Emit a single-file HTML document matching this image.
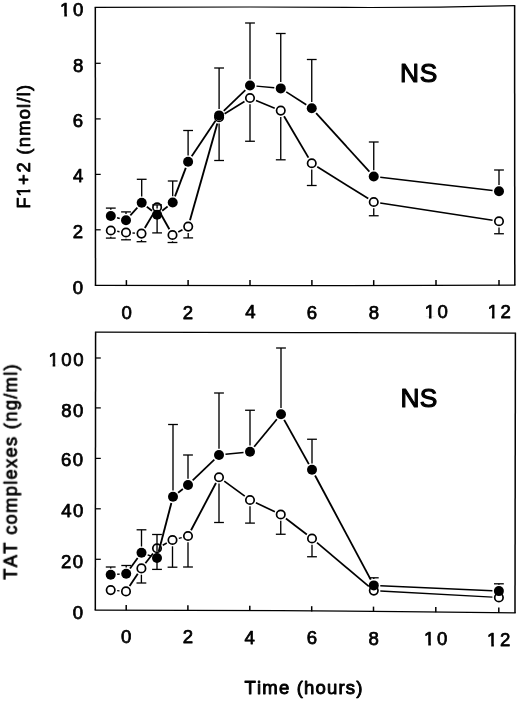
<!DOCTYPE html>
<html lang="en">
<head>
<meta charset="utf-8">
<title>F1+2 and TAT complexes over time</title>
<style>
html,body{margin:0;padding:0;background:#fff;}
body{width:520px;height:701px;overflow:hidden;}
svg{display:block;}
text{font-family:"Liberation Sans",sans-serif;fill:#000;stroke-linejoin:round;font-kerning:none;}
</style>
</head>
<body>
<svg width="520" height="701" viewBox="0 0 520 701">
<defs><filter id="soft" x="0" y="0" width="520" height="701" filterUnits="userSpaceOnUse" color-interpolation-filters="sRGB"><feGaussianBlur stdDeviation="0.33"/></filter></defs>
<rect x="0" y="0" width="520" height="701" fill="#fff"/>
<g filter="url(#soft)">
<polyline points="94.60,7.40 250.00,7.00 370.00,7.50 440.00,7.10 515.30,5.70" fill="none" stroke="#000" stroke-width="1.25" stroke-linejoin="miter"/>
<polyline points="94.80,285.40 300.00,285.60 515.50,285.20" fill="none" stroke="#000" stroke-width="1.25" stroke-linejoin="miter"/>
<line x1="95.30" y1="7.40" x2="95.50" y2="285.40" stroke="#000" stroke-width="1.5" stroke-linecap="butt"/>
<line x1="514.60" y1="5.70" x2="514.80" y2="285.20" stroke="#000" stroke-width="1.5" stroke-linecap="butt"/>
<line x1="95.40" y1="63.30" x2="100.70" y2="63.30" stroke="#000" stroke-width="1.25" stroke-linecap="butt"/>
<line x1="95.40" y1="118.90" x2="100.70" y2="118.90" stroke="#000" stroke-width="1.25" stroke-linecap="butt"/>
<line x1="95.40" y1="174.40" x2="100.70" y2="174.40" stroke="#000" stroke-width="1.25" stroke-linecap="butt"/>
<line x1="95.40" y1="229.80" x2="100.70" y2="229.80" stroke="#000" stroke-width="1.25" stroke-linecap="butt"/>
<line x1="126.40" y1="285.40" x2="126.40" y2="280.10" stroke="#000" stroke-width="1.5" stroke-linecap="butt"/>
<line x1="188.10" y1="285.40" x2="188.10" y2="280.10" stroke="#000" stroke-width="1.5" stroke-linecap="butt"/>
<line x1="250.00" y1="285.40" x2="250.00" y2="280.10" stroke="#000" stroke-width="1.5" stroke-linecap="butt"/>
<line x1="311.90" y1="285.40" x2="311.90" y2="280.10" stroke="#000" stroke-width="1.5" stroke-linecap="butt"/>
<line x1="373.70" y1="285.40" x2="373.70" y2="280.10" stroke="#000" stroke-width="1.5" stroke-linecap="butt"/>
<line x1="436.00" y1="285.40" x2="436.00" y2="280.10" stroke="#000" stroke-width="1.5" stroke-linecap="butt"/>
<line x1="499.00" y1="285.40" x2="499.00" y2="280.10" stroke="#000" stroke-width="1.5" stroke-linecap="butt"/>
<line x1="117.24" y1="231.35" x2="119.56" y2="231.65" stroke="#000" stroke-width="1.47" stroke-linecap="butt"/>
<line x1="132.48" y1="232.96" x2="135.02" y2="233.14" stroke="#000" stroke-width="1.44" stroke-linecap="butt"/>
<line x1="144.82" y1="228.01" x2="153.78" y2="212.89" stroke="#000" stroke-width="1.83" stroke-linecap="butt"/>
<line x1="160.26" y1="212.98" x2="169.34" y2="229.32" stroke="#000" stroke-width="1.84" stroke-linecap="butt"/>
<line x1="178.23" y1="231.93" x2="182.47" y2="229.67" stroke="#000" stroke-width="1.64" stroke-linecap="butt"/>
<line x1="189.97" y1="220.34" x2="217.33" y2="123.46" stroke="#000" stroke-width="1.88" stroke-linecap="butt"/>
<line x1="224.62" y1="113.77" x2="244.48" y2="101.43" stroke="#000" stroke-width="1.66" stroke-linecap="butt"/>
<line x1="256.01" y1="100.46" x2="274.74" y2="108.14" stroke="#000" stroke-width="1.59" stroke-linecap="butt"/>
<line x1="284.05" y1="116.20" x2="308.45" y2="157.65" stroke="#000" stroke-width="1.83" stroke-linecap="butt"/>
<line x1="317.26" y1="166.69" x2="368.24" y2="198.56" stroke="#000" stroke-width="1.66" stroke-linecap="butt"/>
<line x1="380.17" y1="202.99" x2="492.58" y2="220.26" stroke="#000" stroke-width="1.48" stroke-linecap="butt"/>
<line x1="110.80" y1="236.80" x2="110.80" y2="238.10" stroke="#000" stroke-width="1.35" stroke-linecap="butt"/>
<line x1="105.90" y1="238.10" x2="115.70" y2="238.10" stroke="#000" stroke-width="1.3" stroke-linecap="butt"/>
<line x1="126.00" y1="238.80" x2="126.00" y2="239.80" stroke="#000" stroke-width="1.35" stroke-linecap="butt"/>
<line x1="121.10" y1="239.80" x2="130.90" y2="239.80" stroke="#000" stroke-width="1.3" stroke-linecap="butt"/>
<line x1="141.50" y1="239.90" x2="141.50" y2="241.70" stroke="#000" stroke-width="1.35" stroke-linecap="butt"/>
<line x1="136.60" y1="241.70" x2="146.40" y2="241.70" stroke="#000" stroke-width="1.3" stroke-linecap="butt"/>
<line x1="157.10" y1="213.60" x2="157.10" y2="232.90" stroke="#000" stroke-width="1.35" stroke-linecap="butt"/>
<line x1="152.20" y1="232.90" x2="162.00" y2="232.90" stroke="#000" stroke-width="1.3" stroke-linecap="butt"/>
<line x1="172.50" y1="241.30" x2="172.50" y2="242.50" stroke="#000" stroke-width="1.35" stroke-linecap="butt"/>
<line x1="167.60" y1="242.50" x2="177.40" y2="242.50" stroke="#000" stroke-width="1.3" stroke-linecap="butt"/>
<line x1="188.20" y1="232.90" x2="188.20" y2="237.90" stroke="#000" stroke-width="1.35" stroke-linecap="butt"/>
<line x1="183.30" y1="237.90" x2="193.10" y2="237.90" stroke="#000" stroke-width="1.3" stroke-linecap="butt"/>
<line x1="219.10" y1="123.50" x2="219.10" y2="160.50" stroke="#000" stroke-width="1.35" stroke-linecap="butt"/>
<line x1="214.20" y1="160.50" x2="224.00" y2="160.50" stroke="#000" stroke-width="1.3" stroke-linecap="butt"/>
<line x1="250.00" y1="104.30" x2="250.00" y2="141.25" stroke="#000" stroke-width="1.35" stroke-linecap="butt"/>
<line x1="245.10" y1="141.25" x2="254.90" y2="141.25" stroke="#000" stroke-width="1.3" stroke-linecap="butt"/>
<line x1="280.75" y1="116.90" x2="280.75" y2="159.80" stroke="#000" stroke-width="1.35" stroke-linecap="butt"/>
<line x1="275.85" y1="159.80" x2="285.65" y2="159.80" stroke="#000" stroke-width="1.3" stroke-linecap="butt"/>
<line x1="311.75" y1="169.55" x2="311.75" y2="185.50" stroke="#000" stroke-width="1.35" stroke-linecap="butt"/>
<line x1="306.85" y1="185.50" x2="316.65" y2="185.50" stroke="#000" stroke-width="1.3" stroke-linecap="butt"/>
<line x1="373.75" y1="208.30" x2="373.75" y2="215.75" stroke="#000" stroke-width="1.35" stroke-linecap="butt"/>
<line x1="368.85" y1="215.75" x2="378.65" y2="215.75" stroke="#000" stroke-width="1.3" stroke-linecap="butt"/>
<line x1="499.00" y1="227.55" x2="499.00" y2="233.75" stroke="#000" stroke-width="1.35" stroke-linecap="butt"/>
<line x1="494.10" y1="233.75" x2="503.90" y2="233.75" stroke="#000" stroke-width="1.3" stroke-linecap="butt"/>
<circle cx="110.80" cy="230.50" r="4.2" fill="#fff" stroke="#000" stroke-width="1.7"/>
<circle cx="126.00" cy="232.50" r="4.2" fill="#fff" stroke="#000" stroke-width="1.7"/>
<circle cx="141.50" cy="233.60" r="4.2" fill="#fff" stroke="#000" stroke-width="1.7"/>
<circle cx="157.10" cy="207.30" r="4.2" fill="#fff" stroke="#000" stroke-width="1.7"/>
<circle cx="172.50" cy="235.00" r="4.2" fill="#fff" stroke="#000" stroke-width="1.7"/>
<circle cx="188.20" cy="226.60" r="4.2" fill="#fff" stroke="#000" stroke-width="1.7"/>
<circle cx="219.10" cy="117.20" r="4.2" fill="#fff" stroke="#000" stroke-width="1.7"/>
<circle cx="250.00" cy="98.00" r="4.2" fill="#fff" stroke="#000" stroke-width="1.7"/>
<circle cx="280.75" cy="110.60" r="4.2" fill="#fff" stroke="#000" stroke-width="1.7"/>
<circle cx="311.75" cy="163.25" r="4.2" fill="#fff" stroke="#000" stroke-width="1.7"/>
<circle cx="373.75" cy="202.00" r="4.2" fill="#fff" stroke="#000" stroke-width="1.7"/>
<circle cx="499.00" cy="221.25" r="4.2" fill="#fff" stroke="#000" stroke-width="1.7"/>
<line x1="117.07" y1="217.73" x2="119.73" y2="218.47" stroke="#000" stroke-width="1.53" stroke-linecap="butt"/>
<line x1="130.34" y1="215.36" x2="137.36" y2="207.54" stroke="#000" stroke-width="1.77" stroke-linecap="butt"/>
<line x1="146.81" y1="206.72" x2="151.99" y2="210.78" stroke="#000" stroke-width="1.71" stroke-linecap="butt"/>
<line x1="162.20" y1="210.78" x2="167.60" y2="206.52" stroke="#000" stroke-width="1.71" stroke-linecap="butt"/>
<line x1="175.00" y1="196.42" x2="185.80" y2="167.83" stroke="#000" stroke-width="1.87" stroke-linecap="butt"/>
<line x1="191.71" y1="156.35" x2="215.49" y2="120.80" stroke="#000" stroke-width="1.82" stroke-linecap="butt"/>
<line x1="223.77" y1="110.88" x2="245.33" y2="90.02" stroke="#000" stroke-width="1.75" stroke-linecap="butt"/>
<line x1="256.47" y1="86.11" x2="274.28" y2="87.79" stroke="#000" stroke-width="1.45" stroke-linecap="butt"/>
<line x1="286.22" y1="91.91" x2="306.28" y2="104.74" stroke="#000" stroke-width="1.67" stroke-linecap="butt"/>
<line x1="316.12" y1="113.06" x2="369.38" y2="171.69" stroke="#000" stroke-width="1.77" stroke-linecap="butt"/>
<line x1="380.21" y1="177.26" x2="492.54" y2="190.49" stroke="#000" stroke-width="1.46" stroke-linecap="butt"/>
<line x1="110.80" y1="209.70" x2="110.80" y2="208.10" stroke="#000" stroke-width="1.35" stroke-linecap="butt"/>
<line x1="105.90" y1="208.10" x2="115.70" y2="208.10" stroke="#000" stroke-width="1.3" stroke-linecap="butt"/>
<line x1="126.00" y1="213.90" x2="126.00" y2="211.90" stroke="#000" stroke-width="1.35" stroke-linecap="butt"/>
<line x1="121.10" y1="211.90" x2="130.90" y2="211.90" stroke="#000" stroke-width="1.3" stroke-linecap="butt"/>
<line x1="141.70" y1="196.40" x2="141.70" y2="179.30" stroke="#000" stroke-width="1.35" stroke-linecap="butt"/>
<line x1="136.80" y1="179.30" x2="146.60" y2="179.30" stroke="#000" stroke-width="1.3" stroke-linecap="butt"/>
<line x1="157.10" y1="208.50" x2="157.10" y2="204.90" stroke="#000" stroke-width="1.35" stroke-linecap="butt"/>
<line x1="152.20" y1="204.90" x2="162.00" y2="204.90" stroke="#000" stroke-width="1.3" stroke-linecap="butt"/>
<line x1="172.70" y1="196.20" x2="172.70" y2="181.00" stroke="#000" stroke-width="1.35" stroke-linecap="butt"/>
<line x1="167.80" y1="181.00" x2="177.60" y2="181.00" stroke="#000" stroke-width="1.3" stroke-linecap="butt"/>
<line x1="188.10" y1="155.45" x2="188.10" y2="130.50" stroke="#000" stroke-width="1.35" stroke-linecap="butt"/>
<line x1="183.20" y1="130.50" x2="193.00" y2="130.50" stroke="#000" stroke-width="1.3" stroke-linecap="butt"/>
<line x1="219.10" y1="109.10" x2="219.10" y2="68.00" stroke="#000" stroke-width="1.35" stroke-linecap="butt"/>
<line x1="214.20" y1="68.00" x2="224.00" y2="68.00" stroke="#000" stroke-width="1.3" stroke-linecap="butt"/>
<line x1="250.00" y1="79.20" x2="250.00" y2="23.00" stroke="#000" stroke-width="1.35" stroke-linecap="butt"/>
<line x1="245.10" y1="23.00" x2="254.90" y2="23.00" stroke="#000" stroke-width="1.3" stroke-linecap="butt"/>
<line x1="280.75" y1="82.10" x2="280.75" y2="33.50" stroke="#000" stroke-width="1.35" stroke-linecap="butt"/>
<line x1="275.85" y1="33.50" x2="285.65" y2="33.50" stroke="#000" stroke-width="1.3" stroke-linecap="butt"/>
<line x1="311.75" y1="101.95" x2="311.75" y2="59.50" stroke="#000" stroke-width="1.35" stroke-linecap="butt"/>
<line x1="306.85" y1="59.50" x2="316.65" y2="59.50" stroke="#000" stroke-width="1.3" stroke-linecap="butt"/>
<line x1="373.75" y1="170.20" x2="373.75" y2="142.00" stroke="#000" stroke-width="1.35" stroke-linecap="butt"/>
<line x1="368.85" y1="142.00" x2="378.65" y2="142.00" stroke="#000" stroke-width="1.3" stroke-linecap="butt"/>
<line x1="499.00" y1="184.95" x2="499.00" y2="170.00" stroke="#000" stroke-width="1.35" stroke-linecap="butt"/>
<line x1="494.10" y1="170.00" x2="503.90" y2="170.00" stroke="#000" stroke-width="1.3" stroke-linecap="butt"/>
<circle cx="110.80" cy="216.00" r="5.0" fill="#000"/>
<circle cx="126.00" cy="220.20" r="5.0" fill="#000"/>
<circle cx="141.70" cy="202.70" r="5.0" fill="#000"/>
<circle cx="157.10" cy="214.80" r="5.0" fill="#000"/>
<circle cx="172.70" cy="202.50" r="5.0" fill="#000"/>
<circle cx="188.10" cy="161.75" r="5.0" fill="#000"/>
<circle cx="219.10" cy="115.40" r="5.0" fill="#000"/>
<circle cx="250.00" cy="85.50" r="5.0" fill="#000"/>
<circle cx="280.75" cy="88.40" r="5.0" fill="#000"/>
<circle cx="311.75" cy="108.25" r="5.0" fill="#000"/>
<circle cx="373.75" cy="176.50" r="5.0" fill="#000"/>
<circle cx="499.00" cy="191.25" r="5.0" fill="#000"/>
<polyline points="94.90,332.20 300.00,332.50 516.10,333.20" fill="none" stroke="#000" stroke-width="1.25" stroke-linejoin="miter"/>
<polyline points="94.60,610.00 280.00,610.60 400.00,611.60 515.70,612.90" fill="none" stroke="#000" stroke-width="1.25" stroke-linejoin="miter"/>
<line x1="95.60" y1="332.20" x2="95.30" y2="610.00" stroke="#000" stroke-width="1.5" stroke-linecap="butt"/>
<line x1="515.40" y1="333.20" x2="515.00" y2="612.90" stroke="#000" stroke-width="1.5" stroke-linecap="butt"/>
<line x1="95.50" y1="358.00" x2="100.80" y2="358.00" stroke="#000" stroke-width="1.25" stroke-linecap="butt"/>
<line x1="95.50" y1="407.90" x2="100.80" y2="407.90" stroke="#000" stroke-width="1.25" stroke-linecap="butt"/>
<line x1="95.50" y1="458.40" x2="100.80" y2="458.40" stroke="#000" stroke-width="1.25" stroke-linecap="butt"/>
<line x1="95.50" y1="508.80" x2="100.80" y2="508.80" stroke="#000" stroke-width="1.25" stroke-linecap="butt"/>
<line x1="95.50" y1="559.30" x2="100.80" y2="559.30" stroke="#000" stroke-width="1.25" stroke-linecap="butt"/>
<line x1="126.20" y1="610.21" x2="126.20" y2="604.91" stroke="#000" stroke-width="1.5" stroke-linecap="butt"/>
<line x1="187.90" y1="610.64" x2="187.90" y2="605.34" stroke="#000" stroke-width="1.5" stroke-linecap="butt"/>
<line x1="249.80" y1="611.07" x2="249.80" y2="605.77" stroke="#000" stroke-width="1.5" stroke-linecap="butt"/>
<line x1="311.70" y1="611.49" x2="311.70" y2="606.19" stroke="#000" stroke-width="1.5" stroke-linecap="butt"/>
<line x1="373.50" y1="611.92" x2="373.50" y2="606.62" stroke="#000" stroke-width="1.5" stroke-linecap="butt"/>
<line x1="435.80" y1="612.35" x2="435.80" y2="607.05" stroke="#000" stroke-width="1.5" stroke-linecap="butt"/>
<line x1="498.80" y1="612.79" x2="498.80" y2="607.49" stroke="#000" stroke-width="1.5" stroke-linecap="butt"/>
<line x1="117.18" y1="590.65" x2="119.52" y2="590.85" stroke="#000" stroke-width="1.44" stroke-linecap="butt"/>
<line x1="129.62" y1="586.00" x2="137.78" y2="573.80" stroke="#000" stroke-width="1.82" stroke-linecap="butt"/>
<line x1="145.39" y1="563.27" x2="153.01" y2="553.43" stroke="#000" stroke-width="1.79" stroke-linecap="butt"/>
<line x1="162.73" y1="545.23" x2="166.77" y2="543.07" stroke="#000" stroke-width="1.64" stroke-linecap="butt"/>
<line x1="178.79" y1="538.38" x2="181.71" y2="537.62" stroke="#000" stroke-width="1.52" stroke-linecap="butt"/>
<line x1="191.03" y1="530.25" x2="215.97" y2="483.00" stroke="#000" stroke-width="1.84" stroke-linecap="butt"/>
<line x1="224.24" y1="481.10" x2="244.76" y2="496.15" stroke="#000" stroke-width="1.7" stroke-linecap="butt"/>
<line x1="255.88" y1="502.77" x2="274.87" y2="511.73" stroke="#000" stroke-width="1.61" stroke-linecap="butt"/>
<line x1="285.91" y1="518.46" x2="306.84" y2="534.54" stroke="#000" stroke-width="1.7" stroke-linecap="butt"/>
<line x1="316.97" y1="542.69" x2="368.83" y2="586.41" stroke="#000" stroke-width="1.72" stroke-linecap="butt"/>
<line x1="380.29" y1="590.96" x2="492.41" y2="597.14" stroke="#000" stroke-width="1.43" stroke-linecap="butt"/>
<line x1="141.40" y1="574.70" x2="141.40" y2="583.00" stroke="#000" stroke-width="1.35" stroke-linecap="butt"/>
<line x1="136.50" y1="583.00" x2="146.30" y2="583.00" stroke="#000" stroke-width="1.3" stroke-linecap="butt"/>
<line x1="157.00" y1="554.60" x2="157.00" y2="569.40" stroke="#000" stroke-width="1.35" stroke-linecap="butt"/>
<line x1="152.10" y1="569.40" x2="161.90" y2="569.40" stroke="#000" stroke-width="1.3" stroke-linecap="butt"/>
<line x1="172.50" y1="546.30" x2="172.50" y2="567.20" stroke="#000" stroke-width="1.35" stroke-linecap="butt"/>
<line x1="167.60" y1="567.20" x2="177.40" y2="567.20" stroke="#000" stroke-width="1.3" stroke-linecap="butt"/>
<line x1="188.00" y1="542.30" x2="188.00" y2="567.00" stroke="#000" stroke-width="1.35" stroke-linecap="butt"/>
<line x1="183.10" y1="567.00" x2="192.90" y2="567.00" stroke="#000" stroke-width="1.3" stroke-linecap="butt"/>
<line x1="219.00" y1="483.55" x2="219.00" y2="522.50" stroke="#000" stroke-width="1.35" stroke-linecap="butt"/>
<line x1="214.10" y1="522.50" x2="223.90" y2="522.50" stroke="#000" stroke-width="1.3" stroke-linecap="butt"/>
<line x1="250.00" y1="506.30" x2="250.00" y2="523.10" stroke="#000" stroke-width="1.35" stroke-linecap="butt"/>
<line x1="245.10" y1="523.10" x2="254.90" y2="523.10" stroke="#000" stroke-width="1.3" stroke-linecap="butt"/>
<line x1="280.75" y1="520.80" x2="280.75" y2="534.25" stroke="#000" stroke-width="1.35" stroke-linecap="butt"/>
<line x1="275.85" y1="534.25" x2="285.65" y2="534.25" stroke="#000" stroke-width="1.3" stroke-linecap="butt"/>
<line x1="312.00" y1="544.80" x2="312.00" y2="556.75" stroke="#000" stroke-width="1.35" stroke-linecap="butt"/>
<line x1="307.10" y1="556.75" x2="316.90" y2="556.75" stroke="#000" stroke-width="1.3" stroke-linecap="butt"/>
<circle cx="110.70" cy="590.10" r="4.2" fill="#fff" stroke="#000" stroke-width="1.7"/>
<circle cx="126.00" cy="591.40" r="4.2" fill="#fff" stroke="#000" stroke-width="1.7"/>
<circle cx="141.40" cy="568.40" r="4.2" fill="#fff" stroke="#000" stroke-width="1.7"/>
<circle cx="157.00" cy="548.30" r="4.2" fill="#fff" stroke="#000" stroke-width="1.7"/>
<circle cx="172.50" cy="540.00" r="4.2" fill="#fff" stroke="#000" stroke-width="1.7"/>
<circle cx="188.00" cy="536.00" r="4.2" fill="#fff" stroke="#000" stroke-width="1.7"/>
<circle cx="219.00" cy="477.25" r="4.2" fill="#fff" stroke="#000" stroke-width="1.7"/>
<circle cx="250.00" cy="500.00" r="4.2" fill="#fff" stroke="#000" stroke-width="1.7"/>
<circle cx="280.75" cy="514.50" r="4.2" fill="#fff" stroke="#000" stroke-width="1.7"/>
<circle cx="312.00" cy="538.50" r="4.2" fill="#fff" stroke="#000" stroke-width="1.7"/>
<circle cx="373.80" cy="590.60" r="4.2" fill="#fff" stroke="#000" stroke-width="1.7"/>
<circle cx="498.90" cy="597.50" r="4.2" fill="#fff" stroke="#000" stroke-width="1.7"/>
<line x1="117.19" y1="574.28" x2="119.71" y2="574.12" stroke="#000" stroke-width="1.43" stroke-linecap="butt"/>
<line x1="130.04" y1="568.46" x2="137.66" y2="558.04" stroke="#000" stroke-width="1.8" stroke-linecap="butt"/>
<line x1="147.66" y1="554.87" x2="150.84" y2="555.93" stroke="#000" stroke-width="1.56" stroke-linecap="butt"/>
<line x1="158.64" y1="551.71" x2="171.36" y2="503.04" stroke="#000" stroke-width="1.88" stroke-linecap="butt"/>
<line x1="178.12" y1="492.74" x2="182.88" y2="489.01" stroke="#000" stroke-width="1.71" stroke-linecap="butt"/>
<line x1="192.67" y1="480.48" x2="214.33" y2="459.52" stroke="#000" stroke-width="1.75" stroke-linecap="butt"/>
<line x1="225.47" y1="454.33" x2="243.53" y2="452.47" stroke="#000" stroke-width="1.45" stroke-linecap="butt"/>
<line x1="254.14" y1="446.79" x2="276.86" y2="419.26" stroke="#000" stroke-width="1.79" stroke-linecap="butt"/>
<line x1="284.17" y1="419.92" x2="308.83" y2="464.08" stroke="#000" stroke-width="1.84" stroke-linecap="butt"/>
<line x1="315.06" y1="475.48" x2="370.74" y2="579.67" stroke="#000" stroke-width="1.84" stroke-linecap="butt"/>
<line x1="380.29" y1="585.70" x2="492.41" y2="590.80" stroke="#000" stroke-width="1.42" stroke-linecap="butt"/>
<line x1="110.70" y1="568.40" x2="110.70" y2="567.00" stroke="#000" stroke-width="1.35" stroke-linecap="butt"/>
<line x1="105.80" y1="567.00" x2="115.60" y2="567.00" stroke="#000" stroke-width="1.3" stroke-linecap="butt"/>
<line x1="126.20" y1="567.40" x2="126.20" y2="565.50" stroke="#000" stroke-width="1.35" stroke-linecap="butt"/>
<line x1="121.30" y1="565.50" x2="131.10" y2="565.50" stroke="#000" stroke-width="1.3" stroke-linecap="butt"/>
<line x1="141.50" y1="546.50" x2="141.50" y2="529.80" stroke="#000" stroke-width="1.35" stroke-linecap="butt"/>
<line x1="136.60" y1="529.80" x2="146.40" y2="529.80" stroke="#000" stroke-width="1.3" stroke-linecap="butt"/>
<line x1="157.00" y1="551.70" x2="157.00" y2="534.50" stroke="#000" stroke-width="1.35" stroke-linecap="butt"/>
<line x1="152.10" y1="534.50" x2="161.90" y2="534.50" stroke="#000" stroke-width="1.3" stroke-linecap="butt"/>
<line x1="173.00" y1="490.45" x2="173.00" y2="424.50" stroke="#000" stroke-width="1.35" stroke-linecap="butt"/>
<line x1="168.10" y1="424.50" x2="177.90" y2="424.50" stroke="#000" stroke-width="1.3" stroke-linecap="butt"/>
<line x1="188.00" y1="478.70" x2="188.00" y2="455.00" stroke="#000" stroke-width="1.35" stroke-linecap="butt"/>
<line x1="183.10" y1="455.00" x2="192.90" y2="455.00" stroke="#000" stroke-width="1.3" stroke-linecap="butt"/>
<line x1="219.00" y1="448.70" x2="219.00" y2="393.00" stroke="#000" stroke-width="1.35" stroke-linecap="butt"/>
<line x1="214.10" y1="393.00" x2="223.90" y2="393.00" stroke="#000" stroke-width="1.3" stroke-linecap="butt"/>
<line x1="250.00" y1="445.50" x2="250.00" y2="410.25" stroke="#000" stroke-width="1.35" stroke-linecap="butt"/>
<line x1="245.10" y1="410.25" x2="254.90" y2="410.25" stroke="#000" stroke-width="1.3" stroke-linecap="butt"/>
<line x1="281.00" y1="407.95" x2="281.00" y2="348.00" stroke="#000" stroke-width="1.35" stroke-linecap="butt"/>
<line x1="276.10" y1="348.00" x2="285.90" y2="348.00" stroke="#000" stroke-width="1.3" stroke-linecap="butt"/>
<line x1="312.00" y1="463.45" x2="312.00" y2="439.25" stroke="#000" stroke-width="1.35" stroke-linecap="butt"/>
<line x1="307.10" y1="439.25" x2="316.90" y2="439.25" stroke="#000" stroke-width="1.3" stroke-linecap="butt"/>
<line x1="373.80" y1="579.10" x2="373.80" y2="577.80" stroke="#000" stroke-width="1.35" stroke-linecap="butt"/>
<line x1="368.90" y1="577.80" x2="378.70" y2="577.80" stroke="#000" stroke-width="1.3" stroke-linecap="butt"/>
<line x1="498.90" y1="584.80" x2="498.90" y2="583.80" stroke="#000" stroke-width="1.35" stroke-linecap="butt"/>
<line x1="494.00" y1="583.80" x2="503.80" y2="583.80" stroke="#000" stroke-width="1.3" stroke-linecap="butt"/>
<circle cx="110.70" cy="574.70" r="5.0" fill="#000"/>
<circle cx="126.20" cy="573.70" r="5.0" fill="#000"/>
<circle cx="141.50" cy="552.80" r="5.0" fill="#000"/>
<circle cx="157.00" cy="558.00" r="5.0" fill="#000"/>
<circle cx="173.00" cy="496.75" r="5.0" fill="#000"/>
<circle cx="188.00" cy="485.00" r="5.0" fill="#000"/>
<circle cx="219.00" cy="455.00" r="5.0" fill="#000"/>
<circle cx="250.00" cy="451.80" r="5.0" fill="#000"/>
<circle cx="281.00" cy="414.25" r="5.0" fill="#000"/>
<circle cx="312.00" cy="469.75" r="5.0" fill="#000"/>
<circle cx="373.80" cy="585.40" r="5.0" fill="#000"/>
<circle cx="498.90" cy="591.10" r="5.0" fill="#000"/>
<text transform="translate(61.10 15.75)" font-size="18.60" letter-spacing="1.500" dx="-1.0 1.0" stroke="#000" stroke-width="0.75">10</text><g transform="translate(61.10 15.75)" fill="#fff"><rect x="-1.28" y="-2.27" width="4.48" height="3.45"/><rect x="5.82" y="-2.27" width="3.60" height="3.45"/></g>
<text transform="translate(72.90 71.95)" font-size="18.60" stroke="#000" stroke-width="0.75">8</text>
<text transform="translate(72.77 126.95)" font-size="18.60" stroke="#000" stroke-width="0.75">6</text>
<text transform="translate(72.90 182.38)" font-size="18.60" stroke="#000" stroke-width="0.75">4</text>
<text transform="translate(72.77 238.40)" font-size="18.60" stroke="#000" stroke-width="0.75">2</text>
<text transform="translate(72.77 294.15)" font-size="18.60" stroke="#000" stroke-width="0.75">0</text>
<text transform="translate(49.45 365.77)" font-size="18.60" letter-spacing="1.500" dx="-1.0 1.0" stroke="#000" stroke-width="0.75">100</text><g transform="translate(49.45 365.77)" fill="#fff"><rect x="-1.28" y="-2.27" width="4.48" height="3.45"/><rect x="5.82" y="-2.27" width="3.60" height="3.45"/></g>
<text transform="translate(61.28 416.60)" font-size="18.60" letter-spacing="1.500" stroke="#000" stroke-width="0.75">80</text>
<text transform="translate(61.02 466.40)" font-size="18.60" letter-spacing="1.500" stroke="#000" stroke-width="0.75">60</text>
<text transform="translate(61.27 517.10)" font-size="18.60" letter-spacing="1.500" stroke="#000" stroke-width="0.75">40</text>
<text transform="translate(60.90 567.80)" font-size="18.60" letter-spacing="1.500" stroke="#000" stroke-width="0.75">20</text>
<text transform="translate(72.77 618.50)" font-size="18.60" stroke="#000" stroke-width="0.75">0</text>
<text transform="translate(121.40 318.60)" font-size="18.60" stroke="#000" stroke-width="0.75">0</text>
<text transform="translate(182.78 318.50)" font-size="18.60" stroke="#000" stroke-width="0.75">2</text>
<text transform="translate(245.25 318.38)" font-size="18.60" stroke="#000" stroke-width="0.75">4</text>
<text transform="translate(306.77 318.50)" font-size="18.60" stroke="#000" stroke-width="0.75">6</text>
<text transform="translate(368.75 318.50)" font-size="18.60" stroke="#000" stroke-width="0.75">8</text>
<text transform="translate(425.70 318.35)" font-size="18.60" letter-spacing="1.500" dx="-1.0 1.0" stroke="#000" stroke-width="0.75">10</text><g transform="translate(425.70 318.35)" fill="#fff"><rect x="-1.28" y="-2.27" width="4.48" height="3.45"/><rect x="5.82" y="-2.27" width="3.60" height="3.45"/></g>
<text transform="translate(488.70 318.15)" font-size="18.60" letter-spacing="1.500" dx="-1.0 1.0" stroke="#000" stroke-width="0.75">12</text><g transform="translate(488.70 318.15)" fill="#fff"><rect x="-1.28" y="-2.27" width="4.48" height="3.45"/><rect x="5.82" y="-2.27" width="3.60" height="3.45"/></g>
<text transform="translate(120.92 643.20)" font-size="18.60" stroke="#000" stroke-width="0.75">0</text>
<text transform="translate(182.77 643.40)" font-size="18.60" stroke="#000" stroke-width="0.75">2</text>
<text transform="translate(244.48 643.88)" font-size="18.60" stroke="#000" stroke-width="0.75">4</text>
<text transform="translate(306.67 644.05)" font-size="18.60" stroke="#000" stroke-width="0.75">6</text>
<text transform="translate(368.45 644.65)" font-size="18.60" stroke="#000" stroke-width="0.75">8</text>
<text transform="translate(425.05 645.00)" font-size="18.60" letter-spacing="1.500" dx="-1.0 1.0" stroke="#000" stroke-width="0.75">10</text><g transform="translate(425.05 645.00)" fill="#fff"><rect x="-1.28" y="-2.27" width="4.48" height="3.45"/><rect x="5.82" y="-2.27" width="3.60" height="3.45"/></g>
<text transform="translate(488.05 646.00)" font-size="18.60" letter-spacing="1.500" dx="-1.0 1.0" stroke="#000" stroke-width="0.75">12</text><g transform="translate(488.05 646.00)" fill="#fff"><rect x="-1.28" y="-2.27" width="4.48" height="3.45"/><rect x="5.82" y="-2.27" width="3.60" height="3.45"/></g>
<text transform="translate(400.03 82.12)" font-size="26.30" letter-spacing="0.680" stroke="#000" stroke-width="1.15">NS</text>
<text transform="translate(400.40 407.47)" font-size="26.30" letter-spacing="0.280" stroke="#000" stroke-width="1.15">NS</text>
<text transform="translate(244.58 693.62) scale(0.9800 1)" font-size="18.90" letter-spacing="1.189" stroke="#000" stroke-width="0.95">Time (hours)</text>
<text transform="translate(29.97 208.38) rotate(-90) scale(0.9700 1)" font-size="18.90" letter-spacing="1.299" dx="0 -0.5 0 0.5" stroke="#000" stroke-width="0.8">F1+2 (nmol/l)</text><g transform="translate(29.97 208.38) rotate(-90) scale(0.9700 1)" fill="#fff"><rect x="12.06" y="-2.32" width="4.53" height="3.52"/><rect x="19.29" y="-2.32" width="3.65" height="3.52"/></g>
<text transform="translate(16.78 579.75) rotate(-90) scale(0.9700 1)" font-size="18.90" letter-spacing="1.342" stroke="#000" stroke-width="0.8">TAT complexes (ng/ml)</text>
</g>
</svg>
</body>
</html>
